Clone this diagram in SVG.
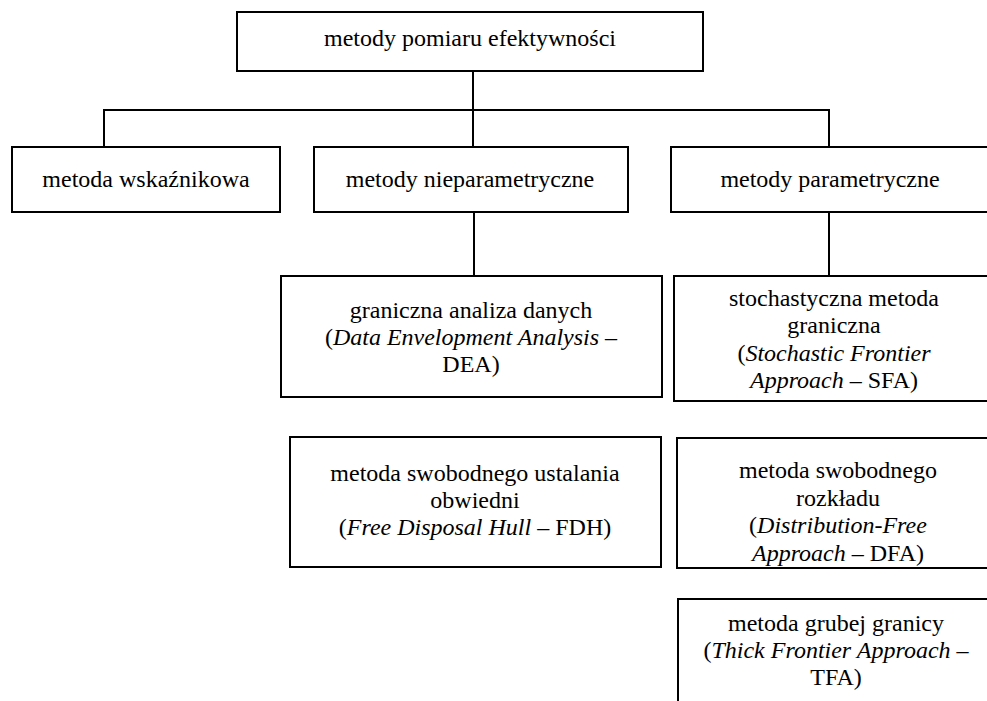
<svg xmlns="http://www.w3.org/2000/svg" width="987" height="701" viewBox="0 0 987 701">
<rect width="987" height="701" fill="#fff"/>
<g id="connectors" fill="none" stroke="#000" stroke-width="2">
<path d="M473,71 V147"/>
<path d="M104,147 V110 H829 V147"/>
<path d="M474,212 V276"/>
<path d="M829,212 V276"/>
</g>
<g id="root">
<rect x="237" y="12" width="466" height="59" fill="#fff" stroke="#000" stroke-width="2"/>
<text x="470" y="46" style="font-family:'Liberation Serif';font-size:24px;text-anchor:middle">metody pomiaru efektywności</text>
</g>
<g id="wskaznikowa">
<rect x="12" y="147" width="268" height="65" fill="#fff" stroke="#000" stroke-width="2"/>
<text x="146" y="187" style="font-family:'Liberation Serif';font-size:24px;text-anchor:middle">metoda wskaźnikowa</text>
</g>
<g id="nieparametryczne">
<rect x="314" y="147" width="314" height="65" fill="#fff" stroke="#000" stroke-width="2"/>
<text x="470" y="187" style="font-family:'Liberation Serif';font-size:24px;text-anchor:middle">metody nieparametryczne</text>
</g>
<g id="parametryczne">
<rect x="671" y="147" width="320" height="65" fill="#fff" stroke="#000" stroke-width="2"/>
<text x="830" y="187" style="font-family:'Liberation Serif';font-size:24px;text-anchor:middle">metody parametryczne</text>
</g>
<g id="dea">
<rect x="281" y="276" width="381" height="121" fill="#fff" stroke="#000" stroke-width="2"/>
<text x="471" y="318" style="font-family:'Liberation Serif';font-size:24px;text-anchor:middle">graniczna analiza danych</text>
<text x="471" y="345" style="font-family:'Liberation Serif';font-size:24px;text-anchor:middle">(<tspan style="font-style:italic">Data Envelopment Analysis</tspan> –</text>
<text x="471" y="372" style="font-family:'Liberation Serif';font-size:24px;text-anchor:middle">DEA)</text>
</g>
<g id="sfa">
<rect x="674" y="276" width="330" height="125" fill="#fff" stroke="#000" stroke-width="2"/>
<text x="834" y="306" style="font-family:'Liberation Serif';font-size:24px;text-anchor:middle">stochastyczna metoda</text>
<text x="834" y="333" style="font-family:'Liberation Serif';font-size:24px;text-anchor:middle">graniczna</text>
<text x="834" y="361" style="font-family:'Liberation Serif';font-size:24px;text-anchor:middle">(<tspan style="font-style:italic">Stochastic Frontier</tspan></text>
<text x="834" y="388" style="font-family:'Liberation Serif';font-size:24px;text-anchor:middle"><tspan style="font-style:italic">Approach</tspan> – SFA)</text>
</g>
<g id="fdh">
<rect x="290" y="437" width="371" height="130" fill="#fff" stroke="#000" stroke-width="2"/>
<text x="475" y="481" style="font-family:'Liberation Serif';font-size:24px;text-anchor:middle">metoda swobodnego ustalania</text>
<text x="475" y="508" style="font-family:'Liberation Serif';font-size:24px;text-anchor:middle">obwiedni</text>
<text x="475" y="535" style="font-family:'Liberation Serif';font-size:24px;text-anchor:middle">(<tspan style="font-style:italic">Free Disposal Hull</tspan> – FDH)</text>
</g>
<g id="dfa">
<rect x="677" y="438" width="330" height="130" fill="#fff" stroke="#000" stroke-width="2"/>
<text x="838" y="478" style="font-family:'Liberation Serif';font-size:24px;text-anchor:middle">metoda swobodnego</text>
<text x="838" y="506" style="font-family:'Liberation Serif';font-size:24px;text-anchor:middle">rozkładu</text>
<text x="838" y="533" style="font-family:'Liberation Serif';font-size:24px;text-anchor:middle">(<tspan style="font-style:italic">Distribution-Free</tspan></text>
<text x="838" y="561" style="font-family:'Liberation Serif';font-size:24px;text-anchor:middle"><tspan style="font-style:italic">Approach</tspan> – DFA)</text>
</g>
<g id="tfa">
<rect x="678" y="599" width="330" height="130" fill="#fff" stroke="#000" stroke-width="2"/>
<text x="836" y="631" style="font-family:'Liberation Serif';font-size:24px;text-anchor:middle">metoda grubej granicy</text>
<text x="836" y="658" style="font-family:'Liberation Serif';font-size:24px;text-anchor:middle">(<tspan style="font-style:italic">Thick Frontier Approach</tspan> –</text>
<text x="836" y="685" style="font-family:'Liberation Serif';font-size:24px;text-anchor:middle">TFA)</text>
</g>
</svg>
